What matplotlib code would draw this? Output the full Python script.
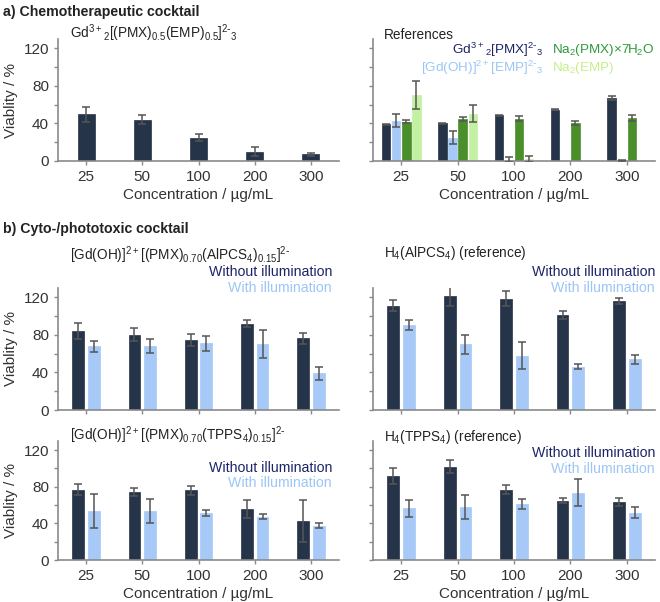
import numpy as np
import matplotlib
matplotlib.use("Agg")
import matplotlib.pyplot as plt

plt.rcParams["font.family"] = ["Liberation Sans", "DejaVu Sans"]
plt.rcParams["mathtext.default"] = "regular"

conc = ["25", "50", "100", "200", "300"]

# a) chemotherapeutic cocktail
cocktail = [50, 44, 25, 10, 7]
cocktail_err = [8, 5, 3.5, 4.5, 2]

# a) references
gd_pmx = [39, 40, 48.5, 54.5, 67.5]
gd_pmx_err = [0.8, 1, 1, 0.5, 2]
gd_emp = [43, 25, 1.5, 0, 1]
gd_emp_err = [7, 7, 3, 0, 0.5]
na_pmx = [42, 44.5, 45, 40.5, 46]
na_pmx_err = [2, 2, 2.5, 2.5, 3]
na_emp = [70, 50.5, 2, 0, 0]
na_emp_err = [15, 9, 3.5, 0, 0]

# b) cyto-/phototoxic cocktails
alpcs_dark = [84, 80, 74.5, 92, 76.5]
alpcs_dark_err = [8.5, 7, 6.5, 4, 6]
alpcs_light = [68, 68.5, 71, 70, 39]
alpcs_light_err = [6, 7.5, 8, 15, 7]

h4alpcs_dark = [111, 121, 118.5, 101, 116]
h4alpcs_dark_err = [6, 10, 8, 4.5, 3]
h4alpcs_light = [90.5, 70, 58, 46, 54]
h4alpcs_light_err = [5, 10, 14, 2.5, 4.5]

tpps_dark = [77, 74.5, 76, 56, 42.5]
tpps_dark_err = [6.5, 4.5, 5, 10, 23]
tpps_light = [53.5, 53.5, 51.5, 47.5, 37.5]
tpps_light_err = [19, 13, 3.5, 2.5, 3]

h4tpps_dark = [91.5, 102, 77, 65, 63.5]
h4tpps_dark_err = [8.5, 7.5, 4.5, 2.5, 4.5]
h4tpps_light = [56.5, 58, 61.5, 73.5, 51.5]
h4tpps_light_err = [9, 13.5, 5.5, 15, 6]

NAVY = "#263449"
LBLUE = "#a6c9f7"
GREEN = "#4a8f2c"
LGREEN = "#c4f0a4"
T_NAVY = "#1b2466"
T_LBLUE = "#9cc6f6"
T_GREEN = "#2e9a3a"
T_LGREEN = "#c6ef8a"
ERR = "#555555"
SPINE = "#8a8a8a"
M = r"\text{-}"  # hyphen-style minus in superscripts

W, H = 660, 602
fig = plt.figure(figsize=(W / 100, H / 100), dpi=100)


def make_ax(x0, x1, ytop, ybot, labels=True, xlabels=True):
    ax = fig.add_axes([x0 / W, 1 - ybot / H, (x1 - x0) / W, (ybot - ytop) / H])
    ax.set_xlim(-0.5, 4.5)
    ax.set_ylim(0, 130)
    ax.set_yticks(np.arange(0, 121, 20))
    if labels:
        ax.set_yticklabels([str(v) if v % 40 == 0 else "" for v in range(0, 121, 20)])
        ax.set_ylabel("Viablity / %", fontsize=11, color="#333333", labelpad=4)
    else:
        ax.set_yticklabels([])
    ax.set_xticks(range(5))
    if xlabels:
        ax.set_xticklabels(conc)
        ax.set_xlabel("Concentration / µg/mL", fontsize=11, color="#333333", labelpad=3)
    else:
        ax.set_xticklabels([])
    for s in ("top", "right"):
        ax.spines[s].set_visible(False)
    for s in ("left", "bottom"):
        ax.spines[s].set_color(SPINE)
        ax.spines[s].set_linewidth(1.2)
    ax.tick_params(axis="both", colors=SPINE, labelcolor="#333333", labelsize=11,
                   length=3, width=1)
    return ax


def bars(ax, vals, errs, offset, width, color):
    x = np.arange(len(vals)) + offset
    ax.bar(x, vals, width, color=color, edgecolor=color, linewidth=0.5, zorder=2)
    e = np.array(errs)
    mask = e > 0
    ax.errorbar(x[mask], np.array(vals)[mask], yerr=e[mask], fmt="none", ecolor=ERR,
                elinewidth=1.1, capsize=3, capthick=1.1, zorder=3)


def two_legend(ax, xr, y1, y2):
    ax.text(xr, y1, "Without illumination", transform=ax.transAxes, ha="right",
            va="center", fontsize=10.2, color=T_NAVY)
    ax.text(xr, y2, "With illumination", transform=ax.transAxes, ha="right",
            va="center", fontsize=10.2, color=T_LBLUE)


# headers
fig.text(3 / W, 1 - 12 / H, "a) Chemotherapeutic cocktail", fontsize=10.2,
         fontweight="bold", va="center", color="#222222")
fig.text(3 / W, 1 - 229 / H, "b) Cyto-/phototoxic cocktail", fontsize=10.2,
         fontweight="bold", va="center", color="#222222")

# ---- a) left
ax = make_ax(58, 339, 39, 161)
bars(ax, cocktail, cocktail_err, 0, 0.3, NAVY)
ax.text(0.043, 1.05, r"Gd$^{3+}$$_{2}$[(PMX)$_{0.5}$(EMP)$_{0.5}$]$^{2" + M + r"}$$_{3}$",
        transform=ax.transAxes, fontsize=9.8, va="center", color="#222222")

# ---- a) right
ax = make_ax(373, 655, 39, 161, labels=False)
bars(ax, gd_pmx, gd_pmx_err, -0.27, 0.15, NAVY)
bars(ax, gd_emp, gd_emp_err, -0.09, 0.15, LBLUE)
bars(ax, na_pmx, na_pmx_err, 0.09, 0.15, GREEN)
bars(ax, na_emp, na_emp_err, 0.27, 0.15, LGREEN)
ax.text(0.04, 1.035, "References", transform=ax.transAxes, fontsize=9.8,
        va="center", color="#222222")
ax.text(0.605, 0.91, r"Gd$^{3+}$$_{2}$[PMX]$^{2" + M + r"}$$_{3}$", transform=ax.transAxes,
        ha="right", va="center", fontsize=9.7, color=T_NAVY)
ax.text(0.635, 0.91, r"Na$_{2}$(PMX)×7H$_{2}$O", transform=ax.transAxes,
        ha="left", va="center", fontsize=9.7, color=T_GREEN)
ax.text(0.605, 0.76, r"[Gd(OH)]$^{2+}$[EMP]$^{2" + M + r"}$$_{3}$", transform=ax.transAxes,
        ha="right", va="center", fontsize=9.7, color=T_LBLUE)
ax.text(0.635, 0.76, r"Na$_{2}$(EMP)", transform=ax.transAxes,
        ha="left", va="center", fontsize=9.7, color=T_LGREEN)

# ---- b) middle left
ax = make_ax(58, 339, 288, 410, xlabels=False)
bars(ax, alpcs_dark, alpcs_dark_err, -0.14, 0.21, NAVY)
bars(ax, alpcs_light, alpcs_light_err, 0.14, 0.21, LBLUE)
ax.text(0.043, 1.27,
        r"[Gd(OH)]$^{2+}$[(PMX)$_{0.70}$(AlPCS$_{4}$)$_{0.15}$]$^{2" + M + r"}$",
        transform=ax.transAxes, fontsize=9.8, va="center", color="#222222")
two_legend(ax, 0.975, 1.13, 1.0)

# ---- b) middle right
ax = make_ax(373, 655, 288, 410, labels=False, xlabels=False)
bars(ax, h4alpcs_dark, h4alpcs_dark_err, -0.14, 0.21, NAVY)
bars(ax, h4alpcs_light, h4alpcs_light_err, 0.14, 0.21, LBLUE)
ax.text(0.04, 1.29, r"H$_{4}$(AlPCS$_{4}$) (reference)", transform=ax.transAxes,
        fontsize=9.8, va="center", color="#222222")
two_legend(ax, 1.0, 1.13, 1.0)

# ---- b) bottom left
ax = make_ax(58, 339, 441, 560)
bars(ax, tpps_dark, tpps_dark_err, -0.14, 0.21, NAVY)
bars(ax, tpps_light, tpps_light_err, 0.14, 0.21, LBLUE)
ax.text(0.043, 1.05,
        r"[Gd(OH)]$^{2+}$[(PMX)$_{0.70}$(TPPS$_{4}$)$_{0.15}$]$^{2" + M + r"}$",
        transform=ax.transAxes, fontsize=9.8, va="center", color="#222222")
two_legend(ax, 0.975, 0.775, 0.645)

# ---- b) bottom right
ax = make_ax(373, 655, 441, 560, labels=False)
bars(ax, h4tpps_dark, h4tpps_dark_err, -0.14, 0.21, NAVY)
bars(ax, h4tpps_light, h4tpps_light_err, 0.14, 0.21, LBLUE)
ax.text(0.04, 1.035, r"H$_{4}$(TPPS$_{4}$) (reference)", transform=ax.transAxes,
        fontsize=9.8, va="center", color="#222222")
two_legend(ax, 1.0, 0.9, 0.765)

fig.savefig("out.png", dpi=100)
